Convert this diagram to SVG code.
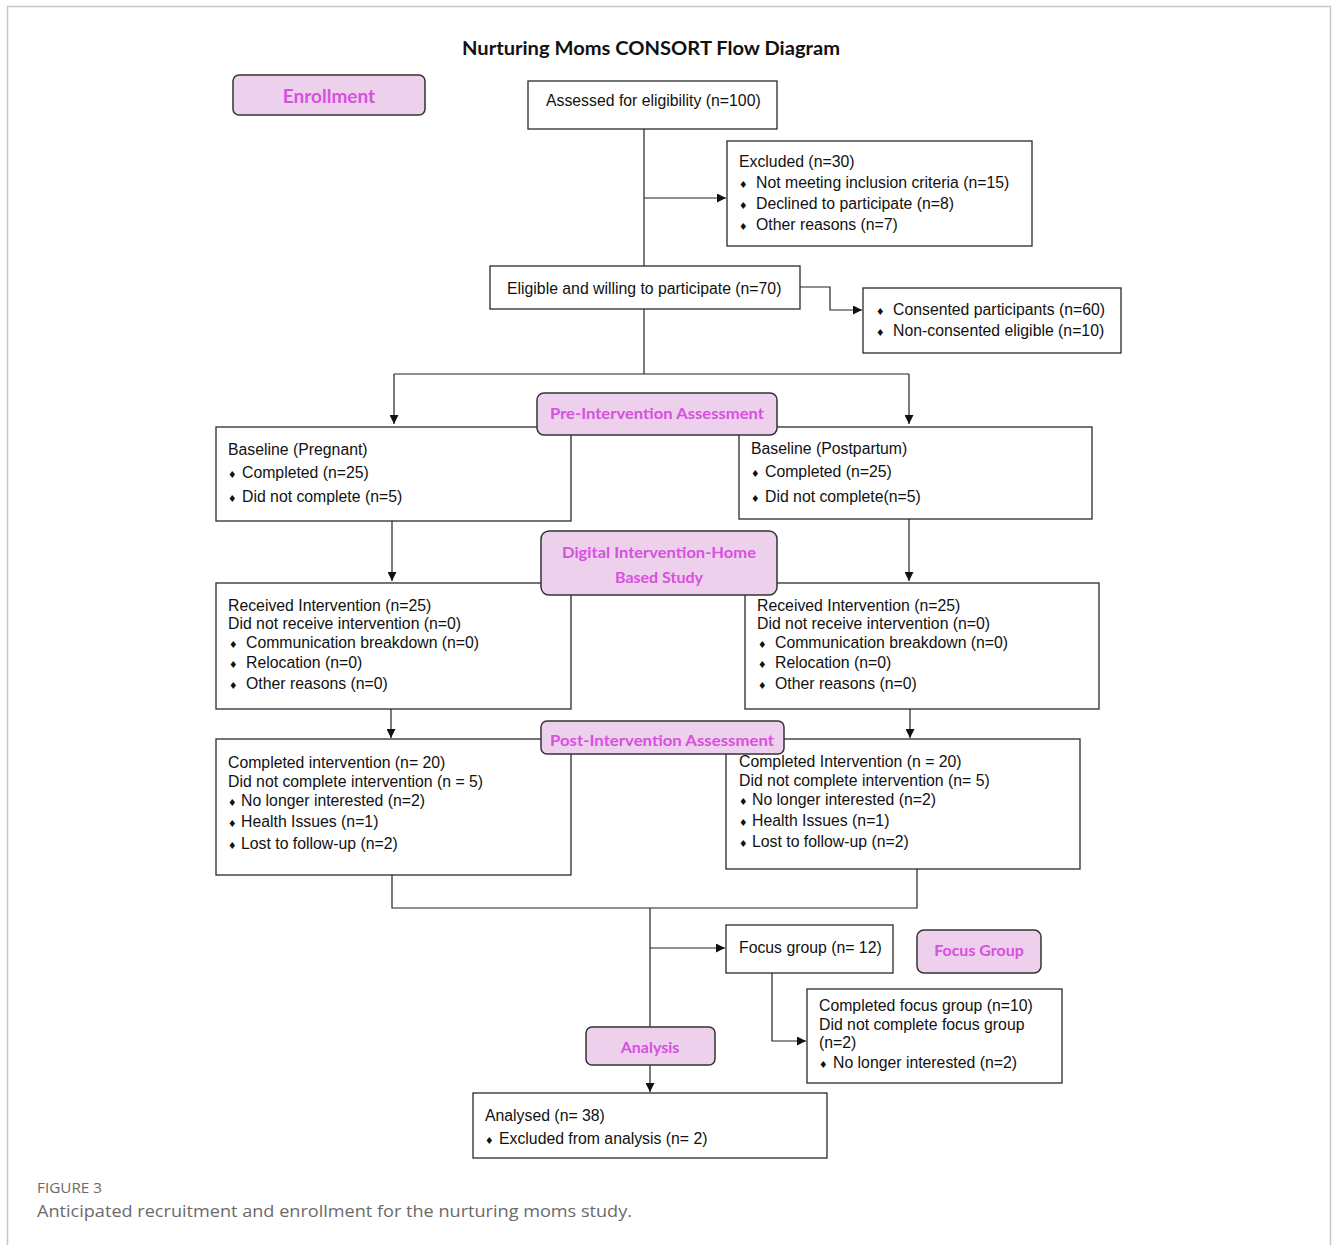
<svg xmlns="http://www.w3.org/2000/svg" width="1333" height="1245" viewBox="0 0 1333 1245">
<defs>
<marker id="ah" viewBox="0 0 10 10" refX="10" refY="5" markerWidth="9" markerHeight="9" markerUnits="userSpaceOnUse" orient="auto">
<path d="M0,0 L10,5 L0,10 z" fill="#111"/>
</marker>
<style>
.box{fill:#fff;stroke:#2a2a2a;stroke-width:1.3}
.lab{fill:#ecd0ec;stroke:#333;stroke-width:1.5}
.t{font-family:"Liberation Sans",Arial,sans-serif;font-size:15.8px;fill:#111}
.b{font-family:"DejaVu Sans",sans-serif;font-size:9.5px;fill:#111}
.lt{font-family:Lato,"Open Sans",sans-serif;font-weight:bold;font-size:16px;fill:#d94fdf;text-anchor:middle}
.ln{fill:none;stroke:#222;stroke-width:1.2}
.cap{font-family:"Open Sans","Liberation Sans",sans-serif;fill:#6a6a6a}
</style>
</defs>
<rect x="0" y="0" width="1333" height="1245" fill="#fff"/>
<path d="M7.5,1245 V6.5 H1330.5 V1245" fill="none" stroke="#c8c8c8" stroke-width="1.5"/>
<text x="651" y="55" text-anchor="middle" style="font-family:Lato,'Open Sans',sans-serif;font-weight:bold;font-size:19px;fill:#111" textLength="378" lengthAdjust="spacingAndGlyphs">Nurturing Moms CONSORT Flow Diagram</text>

<g id="connectors">
<path class="ln" d="M644,129 V266"/>
<path class="ln" d="M644,198 H726" marker-end="url(#ah)"/>
<path class="ln" d="M800,287 H830 V310 H862" marker-end="url(#ah)"/>
<path class="ln" d="M644,309 V374"/>
<path class="ln" d="M394,374 H909"/>
<path class="ln" d="M394,374 V424" marker-end="url(#ah)"/>
<path class="ln" d="M909,374 V424" marker-end="url(#ah)"/>
<path class="ln" d="M392,521 V581" marker-end="url(#ah)"/>
<path class="ln" d="M909,519 V581" marker-end="url(#ah)"/>
<path class="ln" d="M391,709 V738" marker-end="url(#ah)"/>
<path class="ln" d="M910,709 V738" marker-end="url(#ah)"/>
<path class="ln" d="M392,875 V908 H917 V869"/>
<path class="ln" d="M650,908 V1040"/>
<path class="ln" d="M650,948 H725" marker-end="url(#ah)"/>
<path class="ln" d="M772,973 V1041 H806" marker-end="url(#ah)"/>
<path class="ln" d="M650,1060 V1092" marker-end="url(#ah)"/>
</g>

<g id="enrollment-label">
<rect class="lab" x="233" y="75" width="192" height="40" rx="6"/>
<text class="lt" x="329" y="103" style="font-size:19px">Enrollment</text>
</g>

<g id="assessed">
<rect class="box" x="528" y="81" width="249" height="48"/>
<text class="t" x="546" y="106">Assessed for eligibility (n=100)</text>
</g>

<g id="excluded">
<rect class="box" x="727" y="141" width="305" height="105"/>
<text class="t" x="739" y="167">Excluded (n=30)</text>
<text class="b" x="739" y="188">♦</text><text class="t" x="756" y="188">Not meeting inclusion criteria (n=15)</text>
<text class="b" x="739" y="209">♦</text><text class="t" x="756" y="209">Declined to participate (n=8)</text>
<text class="b" x="739" y="230">♦</text><text class="t" x="756" y="230">Other reasons (n=7)</text>
</g>

<g id="eligible">
<rect class="box" x="490" y="266" width="310" height="43"/>
<text class="t" x="507" y="294">Eligible and willing to participate (n=70)</text>
</g>

<g id="consented">
<rect class="box" x="863" y="288" width="258" height="65"/>
<text class="b" x="876" y="315">♦</text><text class="t" x="893" y="315">Consented participants (n=60)</text>
<text class="b" x="876" y="336">♦</text><text class="t" x="893" y="336">Non-consented eligible (n=10)</text>
</g>

<g id="baseline-pregnant">
<rect class="box" x="216" y="427" width="355" height="94"/>
<text class="t" x="228" y="455">Baseline (Pregnant)</text>
<text class="b" x="228" y="478">♦</text><text class="t" x="242" y="478">Completed (n=25)</text>
<text class="b" x="228" y="502">♦</text><text class="t" x="242" y="502">Did not complete (n=5)</text>
</g>

<g id="baseline-postpartum">
<rect class="box" x="739" y="427" width="353" height="92"/>
<text class="t" x="751" y="454">Baseline (Postpartum)</text>
<text class="b" x="751" y="477">♦</text><text class="t" x="765" y="477">Completed (n=25)</text>
<text class="b" x="751" y="502">♦</text><text class="t" x="765" y="502">Did not complete(n=5)</text>
</g>

<g id="pre-label">
<rect class="lab" x="537" y="393" width="240" height="42" rx="7"/>
<text class="lt" x="657" y="419" textLength="214" lengthAdjust="spacingAndGlyphs">Pre-Intervention Assessment</text>
</g>

<g id="received-left">
<rect class="box" x="216" y="583" width="355" height="126"/>
<text class="t" x="228" y="611">Received Intervention (n=25)</text>
<text class="t" x="228" y="629">Did not receive intervention (n=0)</text>
<text class="b" x="229" y="648">♦</text><text class="t" x="246" y="648">Communication breakdown (n=0)</text>
<text class="b" x="229" y="668">♦</text><text class="t" x="246" y="668">Relocation (n=0)</text>
<text class="b" x="229" y="689">♦</text><text class="t" x="246" y="689">Other reasons (n=0)</text>
</g>

<g id="received-right">
<rect class="box" x="745" y="583" width="354" height="126"/>
<text class="t" x="757" y="611">Received Intervention (n=25)</text>
<text class="t" x="757" y="629">Did not receive intervention (n=0)</text>
<text class="b" x="758" y="648">♦</text><text class="t" x="775" y="648">Communication breakdown (n=0)</text>
<text class="b" x="758" y="668">♦</text><text class="t" x="775" y="668">Relocation (n=0)</text>
<text class="b" x="758" y="689">♦</text><text class="t" x="775" y="689">Other reasons (n=0)</text>
</g>

<g id="digital-label">
<rect class="lab" x="541" y="531" width="236" height="64" rx="8"/>
<text class="lt" x="659" y="558" textLength="194" lengthAdjust="spacingAndGlyphs">Digital Intervention-Home</text>
<text class="lt" x="659" y="583">Based Study</text>
</g>

<g id="post-left">
<rect class="box" x="216" y="739" width="355" height="136"/>
<text class="t" x="228" y="768">Completed intervention (n= 20)</text>
<text class="t" x="228" y="787">Did not complete intervention (n = 5)</text>
<text class="b" x="228" y="806">♦</text><text class="t" x="241" y="806">No longer interested (n=2)</text>
<text class="b" x="228" y="827">♦</text><text class="t" x="241" y="827">Health Issues (n=1)</text>
<text class="b" x="228" y="849">♦</text><text class="t" x="241" y="849">Lost to follow-up (n=2)</text>
</g>

<g id="post-right">
<rect class="box" x="726" y="739" width="354" height="130"/>
<text class="t" x="739" y="767">Completed Intervention (n = 20)</text>
<text class="t" x="739" y="786">Did not complete intervention (n= 5)</text>
<text class="b" x="739" y="805">♦</text><text class="t" x="752" y="805">No longer interested (n=2)</text>
<text class="b" x="739" y="826">♦</text><text class="t" x="752" y="826">Health Issues (n=1)</text>
<text class="b" x="739" y="847">♦</text><text class="t" x="752" y="847">Lost to follow-up (n=2)</text>
</g>

<g id="post-label">
<rect class="lab" x="541" y="721" width="243" height="33" rx="6"/>
<text class="lt" x="662" y="746" textLength="224" lengthAdjust="spacingAndGlyphs">Post-Intervention Assessment</text>
</g>

<g id="focus-group">
<rect class="box" x="726" y="925" width="167" height="48"/>
<text class="t" x="739" y="953">Focus group (n= 12)</text>
</g>

<g id="focus-label">
<rect class="lab" x="917" y="930" width="124" height="43" rx="7"/>
<text class="lt" x="979" y="956">Focus Group</text>
</g>

<g id="focus-result">
<rect class="box" x="807" y="989" width="255" height="94"/>
<text class="t" x="819" y="1011">Completed focus group (n=10)</text>
<text class="t" x="819" y="1030">Did not complete focus group</text>
<text class="t" x="819" y="1048">(n=2)</text>
<text class="b" x="819" y="1068">♦</text><text class="t" x="833" y="1068">No longer interested (n=2)</text>
</g>

<g id="analysis-label">
<rect class="lab" x="586" y="1027" width="129" height="38" rx="6"/>
<text class="lt" x="650" y="1053">Analysis</text>
</g>

<g id="analysed">
<rect class="box" x="473" y="1093" width="354" height="65"/>
<text class="t" x="485" y="1121">Analysed (n= 38)</text>
<text class="b" x="485" y="1144">♦</text><text class="t" x="499" y="1144">Excluded from analysis (n= 2)</text>
</g>

<text class="cap" x="37" y="1193" style="font-size:14px" textLength="65" lengthAdjust="spacingAndGlyphs">FIGURE 3</text>
<text class="cap" x="37" y="1217" style="font-size:17px" textLength="595" lengthAdjust="spacingAndGlyphs">Anticipated recruitment and enrollment for the nurturing moms study.</text>
</svg>
